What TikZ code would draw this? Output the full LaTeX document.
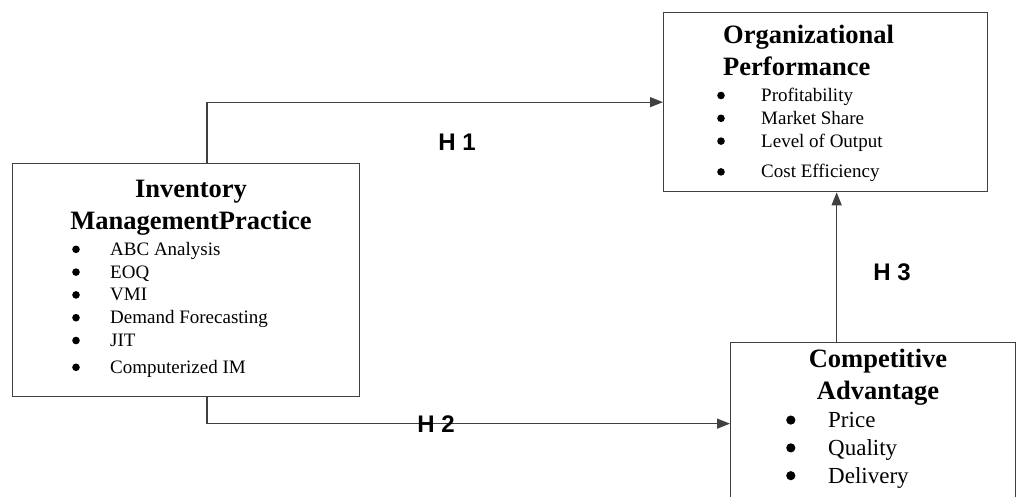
\documentclass[tikz,border=0pt]{standalone}
\usepackage{fontspec}
\setmainfont{Liberation Serif}
\newfontfamily\hypfont{Liberation Sans}
\usetikzlibrary{arrows.meta, positioning}

% bullet item with a fixed gap before the text
\newcommand{\blt}[2][39pt]{\makebox[#1][l]{\hspace{1pt}\tikz[baseline=-0.32em]\fill (0,0) circle[radius=0.2em];}#2}

\begin{document}
\begin{tikzpicture}[
  x=1pt, y=-1pt,
  box/.style={
    rectangle,
    draw=black!75,
    line width=1.3pt,
    inner sep=0pt,
    anchor=north west
  },
  title/.style={
    font=\fontsize{26.5}{32}\selectfont\bfseries,
    align=center,
    inner sep=0pt
  },
  items/.style={
    font=\fontsize{19}{22.8}\selectfont,
    align=left,
    inner sep=0pt,
    anchor=north west
  },
  hyp/.style={font=\hypfont\bfseries\fontsize{24}{24}\selectfont, inner sep=0pt},
  arrow/.style={-{Triangle[length=13pt,width=10pt]}, line width=1.3pt, draw=black!75}
]
\useasboundingbox (0,0) rectangle (1020,496);

\node[box, minimum width=347pt, minimum height=233pt] (imp) at (12,163) {};
\node[box, minimum width=324pt, minimum height=179pt] (op) at (663,12) {};
\node[box, minimum width=285pt, minimum height=162pt] (ca) at (730,342) {};

\node[title] (imptitle) at (191,208) {Inventory\\ManagementPractice};
\node[items] (impitems) at (71,242) {\blt{ABC Analysis}\\\blt{EOQ}\\\blt{VMI}\\\blt{Demand Forecasting}\\\blt{JIT}\\[4pt]\blt{Computerized IM}};

\node[title, align=left, anchor=west] (optitle) at (723,50) {Organizational\\Performance};
\node[items] (opitems) at (716,88) {\blt[45pt]{Profitability}\\\blt[45pt]{Market Share}\\\blt[45pt]{Level of Output}\\[8pt]\blt[45pt]{Cost Efficiency}};

\node[title] (catitle) at (878,377) {Competitive\\Advantage};
\node[items, font=\fontsize{23}{27.8}\selectfont] (caitems) at (785,412) {\blt[43pt]{Price}\\\blt[43pt]{Quality}\\\blt[43pt]{Delivery}};

\draw[arrow] ([xshift=195pt]imp.north west) |- (op.west);
\draw[arrow] ([xshift=195pt]imp.south west) |- (ca.west);
\draw[arrow] ([xshift=11pt]op.south |- ca.north) -- ([xshift=11pt]op.south);

\node[hyp] (h1) at (457,142) {H 1};
\node[hyp] (h2) at (436,424) {H 2};
\node[hyp] (h3) at (892,272) {H 3};

\end{tikzpicture}
\end{document}
